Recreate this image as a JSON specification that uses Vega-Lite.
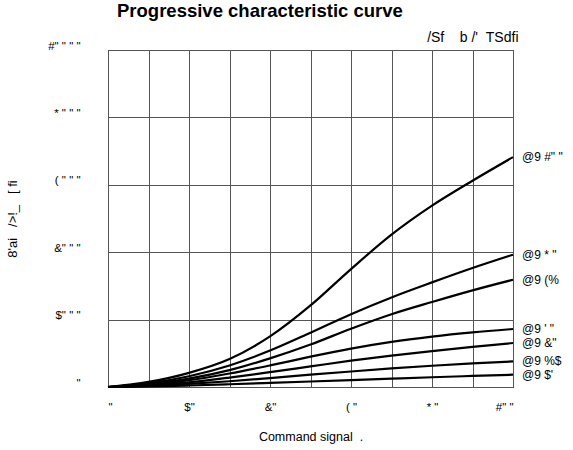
{
  "$schema": "https://vega.github.io/schema/vega-lite/v6.json",
  "autosize": {"type": "none"},
  "padding": {"left": 108, "top": 50, "right": 60, "bottom": 63},
  "width": 405,
  "height": 337,
  "title": {"text": "Progressive characteristic curve", "anchor": "start", "frame": "group", "dx": 9, "fontSize": 18.5, "fontWeight": "bold", "font": "Liberation Sans", "color": "black", "offset": 10},
  "config": {
    "view": {"stroke": "black", "strokeWidth": 1},
    "font": "Liberation Sans",
    "axis": {"labelFont": "Liberation Sans", "titleFont": "Liberation Sans", "labelColor": "black", "titleColor": "black"}
  },
  "data": {"values": [
    {"x": 0, "y": 0, "s": "@9 #\" \""}, {"x": 10, "y": 150, "s": "@9 #\" \""}, {"x": 20, "y": 420, "s": "@9 #\" \""}, {"x": 30, "y": 830, "s": "@9 #\" \""}, {"x": 40, "y": 1500, "s": "@9 #\" \""}, {"x": 50, "y": 2420, "s": "@9 #\" \""}, {"x": 60, "y": 3500, "s": "@9 #\" \""}, {"x": 70, "y": 4520, "s": "@9 #\" \""}, {"x": 80, "y": 5380, "s": "@9 #\" \""}, {"x": 90, "y": 6120, "s": "@9 #\" \""}, {"x": 100, "y": 6820, "s": "@9 #\" \""},
    {"x": 0, "y": 0, "s": "@9 * \""}, {"x": 10, "y": 110, "s": "@9 * \""}, {"x": 20, "y": 320, "s": "@9 * \""}, {"x": 30, "y": 640, "s": "@9 * \""}, {"x": 40, "y": 1080, "s": "@9 * \""}, {"x": 50, "y": 1610, "s": "@9 * \""}, {"x": 60, "y": 2160, "s": "@9 * \""}, {"x": 70, "y": 2658, "s": "@9 * \""}, {"x": 80, "y": 3104, "s": "@9 * \""}, {"x": 90, "y": 3530, "s": "@9 * \""}, {"x": 100, "y": 3925, "s": "@9 * \""},
    {"x": 0, "y": 0, "s": "@9 (%"}, {"x": 10, "y": 90, "s": "@9 (%"}, {"x": 20, "y": 250, "s": "@9 (%"}, {"x": 30, "y": 500, "s": "@9 (%"}, {"x": 40, "y": 850, "s": "@9 (%"}, {"x": 50, "y": 1260, "s": "@9 (%"}, {"x": 60, "y": 1730, "s": "@9 (%"}, {"x": 70, "y": 2160, "s": "@9 (%"}, {"x": 80, "y": 2522, "s": "@9 (%"}, {"x": 90, "y": 2867, "s": "@9 (%"}, {"x": 100, "y": 3183, "s": "@9 (%"},
    {"x": 0, "y": 0, "s": "@9 ' \""}, {"x": 10, "y": 60, "s": "@9 ' \""}, {"x": 20, "y": 200, "s": "@9 ' \""}, {"x": 30, "y": 400, "s": "@9 ' \""}, {"x": 40, "y": 640, "s": "@9 ' \""}, {"x": 50, "y": 900, "s": "@9 ' \""}, {"x": 60, "y": 1140, "s": "@9 ' \""}, {"x": 70, "y": 1340, "s": "@9 ' \""}, {"x": 80, "y": 1495, "s": "@9 ' \""}, {"x": 90, "y": 1620, "s": "@9 ' \""}, {"x": 100, "y": 1721, "s": "@9 ' \""},
    {"x": 0, "y": 0, "s": "@9 &\""}, {"x": 10, "y": 45, "s": "@9 &\""}, {"x": 20, "y": 140, "s": "@9 &\""}, {"x": 30, "y": 280, "s": "@9 &\""}, {"x": 40, "y": 440, "s": "@9 &\""}, {"x": 50, "y": 610, "s": "@9 &\""}, {"x": 60, "y": 780, "s": "@9 &\""}, {"x": 70, "y": 930, "s": "@9 &\""}, {"x": 80, "y": 1065, "s": "@9 &\""}, {"x": 90, "y": 1190, "s": "@9 &\""}, {"x": 100, "y": 1305, "s": "@9 &\""},
    {"x": 0, "y": 0, "s": "@9 %$"}, {"x": 10, "y": 30, "s": "@9 %$"}, {"x": 20, "y": 90, "s": "@9 %$"}, {"x": 30, "y": 170, "s": "@9 %$"}, {"x": 40, "y": 265, "s": "@9 %$"}, {"x": 50, "y": 365, "s": "@9 %$"}, {"x": 60, "y": 460, "s": "@9 %$"}, {"x": 70, "y": 550, "s": "@9 %$"}, {"x": 80, "y": 630, "s": "@9 %$"}, {"x": 90, "y": 700, "s": "@9 %$"}, {"x": 100, "y": 760, "s": "@9 %$"},
    {"x": 0, "y": 0, "s": "@9 $'"}, {"x": 10, "y": 15, "s": "@9 $'"}, {"x": 20, "y": 45, "s": "@9 $'"}, {"x": 30, "y": 82, "s": "@9 $'"}, {"x": 40, "y": 122, "s": "@9 $'"}, {"x": 50, "y": 163, "s": "@9 $'"}, {"x": 60, "y": 205, "s": "@9 $'"}, {"x": 70, "y": 248, "s": "@9 $'"}, {"x": 80, "y": 290, "s": "@9 $'"}, {"x": 90, "y": 328, "s": "@9 $'"}, {"x": 100, "y": 365, "s": "@9 $'"}
  ]},
  "resolve": {"axis": {"x": "independent"}},
  "layer": [
    {
      "mark": {"type": "line", "color": "black", "strokeWidth": 2.2, "interpolate": "monotone"},
      "encoding": {
        "x": {"field": "x", "type": "quantitative", "scale": {"domain": [0, 100], "nice": false},
          "axis": {"orient": "bottom", "values": [0, 10, 20, 30, 40, 50, 60, 70, 80, 90, 100], "grid": true, "gridColor": "#555555", "gridWidth": 1, "gridOpacity": 1, "ticks": false, "domain": false, "labelFontSize": 11.5, "labelPadding": 14,
            "labelExpr": "datum.value == 0 ? '\"' : datum.value == 20 ? '$\"' : datum.value == 40 ? '&\"' : datum.value == 60 ? '( \"' : datum.value == 80 ? '* \"' : datum.value == 100 ? '#\" \"' : ''",
            "title": "Command signal\u00a0\u00a0.", "titleFontSize": 12.5, "titleFontWeight": "normal", "titlePadding": 18}},
        "y": {"field": "y", "type": "quantitative", "scale": {"domain": [0, 10000], "nice": false},
          "axis": {"values": [0, 2000, 4000, 6000, 8000, 10000], "grid": true, "gridColor": "#555555", "gridWidth": 1, "gridOpacity": 1, "ticks": false, "domain": false, "labelFontSize": 11.5, "labelPadding": 28, "labelOffset": -4,
            "labelExpr": "datum.value == 0 ? '\"' : datum.value == 2000 ? '$\" \" \"' : datum.value == 4000 ? '&\" \" \"' : datum.value == 6000 ? '( \" \" \"' : datum.value == 8000 ? '* \" \" \"' : '#\" \" \" \"'",
            "title": "8'ai\u00a0\u00a0\u00a0/>!_\u00a0\u00a0\u00a0[\u00a0fi", "titleFontSize": 13, "titleFontWeight": "normal", "titlePadding": 28}},
        "detail": {"field": "s"}
      }
    },
    {
      "transform": [{"filter": "datum.x == 100"}],
      "mark": {"type": "text", "align": "left", "dx": 9, "fontSize": 12, "color": "black", "font": "Liberation Sans"},
      "encoding": {
        "x": {"field": "x", "type": "quantitative", "axis": {"orient": "top", "labels": false, "ticks": false, "grid": false, "domain": false, "title": "/Sf\u00a0\u00a0\u00a0\u00a0b\u00a0/'\u00a0\u00a0TSdfi", "titleAnchor": "end", "titleX": 410, "titleAlign": "right", "titleFontSize": 14, "titleFontWeight": "normal", "titlePadding": 6}},
        "y": {"field": "y", "type": "quantitative"},
        "text": {"field": "s"}
      }
    }
  ]
}
